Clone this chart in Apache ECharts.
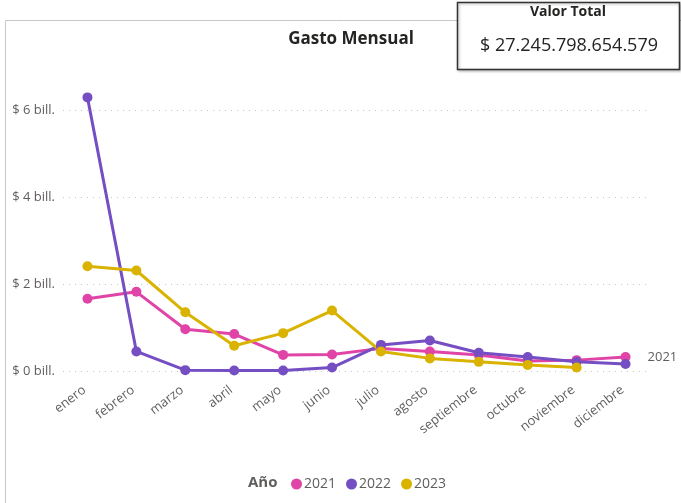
<!DOCTYPE html>
<html>
<head>
<meta charset="utf-8">
<script src="https://cdn.jsdelivr.net/npm/echarts@6/dist/echarts.min.js"></script>
<style>
  html, body { margin: 0; padding: 0; background: #fff; }
  #main { width: 681px; height: 503px; }
</style>
</head>
<body>
<div id="main"></div>
<script>
  // meses del eje x
  var meses = ['enero', 'febrero', 'marzo', 'abril', 'mayo', 'junio', 'julio',
    'agosto', 'septiembre', 'octubre', 'noviembre', 'diciembre'];
  // gasto por mes, en billones
  var gasto2021 = [1.66, 1.82, 0.96, 0.85, 0.37, 0.38, 0.52, 0.45, 0.37, 0.23, 0.25, 0.32];
  var gasto2022 = [6.29, 0.45, 0.02, 0.01, 0.01, 0.08, 0.60, 0.70, 0.42, 0.32, 0.21, 0.16];
  var gasto2023 = [2.41, 2.31, 1.35, 0.58, 0.87, 1.39, 0.45, 0.29, 0.21, 0.14, 0.08, null];
  var anios = ['2021', '2022', '2023'];
  var yTicks = [0, 2, 4, 6];
  var valorTotal = '$ 27.245.798.654.579';

  var font = '"Segoe UI", "Open Sans", "Noto Sans", sans-serif';
  var colores = ['#E044A7', '#744EC2', '#D9B300'];

  var chart = echarts.init(document.getElementById('main'));

  function serie(nombre, datos, color, etiqueta) {
    var s = {
      name: nombre,
      type: 'line',
      data: datos,
      clip: false,
      symbol: 'circle',
      symbolSize: 10,
      lineStyle: { width: 3, color: color },
      itemStyle: { color: color },
      emphasis: { disabled: true }
    };
    if (etiqueta) {
      s.endLabel = {
        show: true,
        formatter: nombre,
        color: '#605E5C',
        fontSize: 13,
        fontFamily: font,
        distance: 22
      };
    }
    return s;
  }

  chart.setOption({
    animation: false,
    title: [
      {
        text: 'Gasto Mensual',
        left: 346,
        top: 26,
        textAlign: 'center',
        textStyle: { fontSize: 17, fontWeight: 'bold', color: '#252423', fontFamily: font }
      },
      {
        text: 'Año',
        left: 243,
        top: 470,
        textStyle: { fontSize: 15, fontWeight: 'bold', color: '#605E5C', fontFamily: font }
      }
    ],
    // marco del panel y la tarjeta de valor total
    graphic: [
      {
        type: 'rect',
        shape: { x: 5.5, y: 20.5, width: 700, height: 500 },
        style: { fill: 'none', stroke: '#C8C8C8', lineWidth: 1 },
        z: -1
      },
      {
        type: 'rect',
        shape: { x: 457.5, y: 2.5, width: 222, height: 67 },
        style: { fill: '#fff', stroke: '#333', lineWidth: 1.5, shadowBlur: 3, shadowColor: 'rgba(0,0,0,0.3)', shadowOffsetX: 1, shadowOffsetY: 1 },
        z: 10
      },
      {
        type: 'text',
        x: 568, y: 5,
        style: { text: 'Valor Total', fill: '#252423', font: 'bold 14px ' + font, textAlign: 'center' },
        z: 11
      },
      {
        type: 'text',
        x: 569, y: 37,
        style: { text: valorTotal, fill: '#252423', font: '18px ' + font, textAlign: 'center' },
        z: 11
      }
    ],
    legend: {
      data: anios,
      left: 286,
      top: 472,
      icon: 'circle',
      itemWidth: 11,
      itemHeight: 11,
      itemGap: 10,
      textStyle: { fontSize: 14, color: '#605E5C', fontFamily: font, padding: [0, 0, 0, -3] }
    },
    grid: {
      left: 63,
      right: 31,
      top: 110,
      bottom: 132
    },
    xAxis: {
      type: 'category',
      data: meses,
      axisLine: { show: false },
      axisTick: { show: false },
      axisLabel: {
        rotate: 38,
        margin: 15,
        fontSize: 13,
        color: '#605E5C',
        fontFamily: font,
        padding: [0, 4, 0, 0]
      }
    },
    yAxis: {
      type: 'value',
      min: 0,
      max: 6,
      interval: 2,
      axisLine: { show: false },
      axisTick: { show: false },
      axisLabel: {
        margin: 8,
        fontSize: 13,
        color: '#605E5C',
        fontFamily: font,
        formatter: function (v) {
          return yTicks.indexOf(v) >= 0 ? '$ ' + v + ' bill.' : '';
        }
      },
      splitLine: { lineStyle: { type: [1, 5], color: '#C8C6C4', width: 1 } }
    },
    series: [
      serie(anios[0], gasto2021, colores[0], true),
      serie(anios[1], gasto2022, colores[1], false),
      serie(anios[2], gasto2023, colores[2], false)
    ]
  });
</script>
</body>
</html>
